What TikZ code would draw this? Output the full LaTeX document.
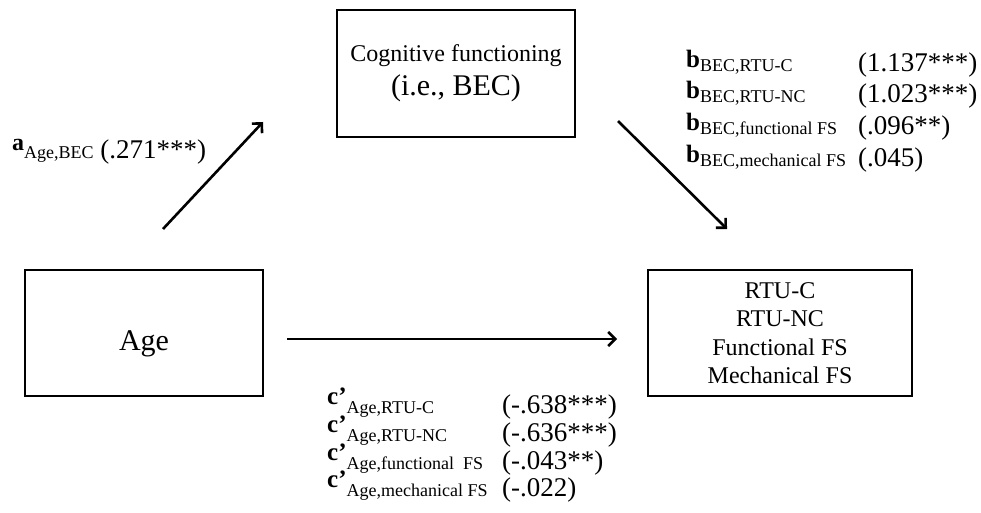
\documentclass[tikz,border=0pt]{standalone}
\usepackage{fontspec}
\setmainfont{Liberation Serif}
\usetikzlibrary{arrows.meta}

% sizes used in the path diagram
\newcommand{\fsz}[1]{\fontsize{#1}{#1}\selectfont}
% coefficient label: raised bold letter, subscript on the baseline
\newcommand{\coef}[3]{\raisebox{#2}{\fsz{25}\bfseries #1}{\fsz{18}#3}}

\begin{document}
\begin{tikzpicture}[x=1pt,y=-1pt,
  box/.style={draw,line width=2.2pt,inner sep=0pt,align=center},
  path arrow/.style={line width=2.6pt,-{Straight Barb[length=7pt,width=14pt,line width=2.6pt]}},
  lbl/.style={anchor=base west,inner sep=0pt,font=\fsz{27}}
]
\useasboundingbox (0,0) rectangle (981,513);

% boxes
\node[box,minimum width=238pt,minimum height=127pt,
      font=\fontsize{24}{34}\selectfont] (bec) at (456,73.5)
  {Cognitive functioning\\{\fsz{30}(i.e., BEC)}};
\node[box,minimum width=238pt,minimum height=126pt,font=\fsz{30},
      text height=34pt,text depth=0pt] (age) at (144,333) {Age};
\node[box,minimum width=264pt,minimum height=126pt,
      font=\fontsize{24}{28.5}\selectfont] (out) at (780,333)
  {RTU-C\\RTU-NC\\Functional FS\\Mechanical FS};

% arrow end points
\coordinate (aS) at (163,229);
\coordinate (aE) at (263,122);
\coordinate (bS) at (618,121);
\coordinate (bE) at (727,229);
\coordinate (cS) at (287,339);
\coordinate (cE) at (617,339);

\draw[path arrow] (aS) -- (aE);
\draw[path arrow] (bS) -- (bE);
\draw[path arrow] (cS) -- (cE);

% path a
\node[lbl] (la) at (12,158)
  {\raisebox{7pt}{\fsz{24}\bfseries a}{\fsz{18}Age,BEC} (.271***)};

% path b
\node[lbl] (lb1) at (686,72)  {\coef{b}{4pt}{BEC,RTU-C}};
\node[lbl] (lb2) at (686,103) {\coef{b}{4pt}{BEC,RTU-NC}};
\node[lbl] (lb3) at (686,135) {\coef{b}{4pt}{BEC,functional FS}};
\node[lbl] (lb4) at (686,167) {\coef{b}{4pt}{BEC,mechanical FS}};
\node[lbl] (vb1) at (858,72)  {(1.137***)};
\node[lbl] (vb2) at (858,103) {(1.023***)};
\node[lbl] (vb3) at (858,135) {(.096**)};
\node[lbl] (vb4) at (858,167) {(.045)};

% path c'
\node[lbl] (lc1) at (327,413) {\coef{c’}{9pt}{Age,RTU-C}};
\node[lbl] (lc2) at (327,441) {\coef{c’}{9pt}{Age,RTU-NC}};
\node[lbl] (lc3) at (327,469) {\coef{c’}{9pt}{Age,functional\ \ FS}};
\node[lbl] (lc4) at (327,496) {\coef{c’}{9pt}{Age,mechanical FS}};
\node[lbl] (vc1) at (502,413) {(-.638***)};
\node[lbl] (vc2) at (502,441) {(-.636***)};
\node[lbl] (vc3) at (502,469) {(-.043**)};
\node[lbl] (vc4) at (502,496) {(-.022)};
\end{tikzpicture}
\end{document}
